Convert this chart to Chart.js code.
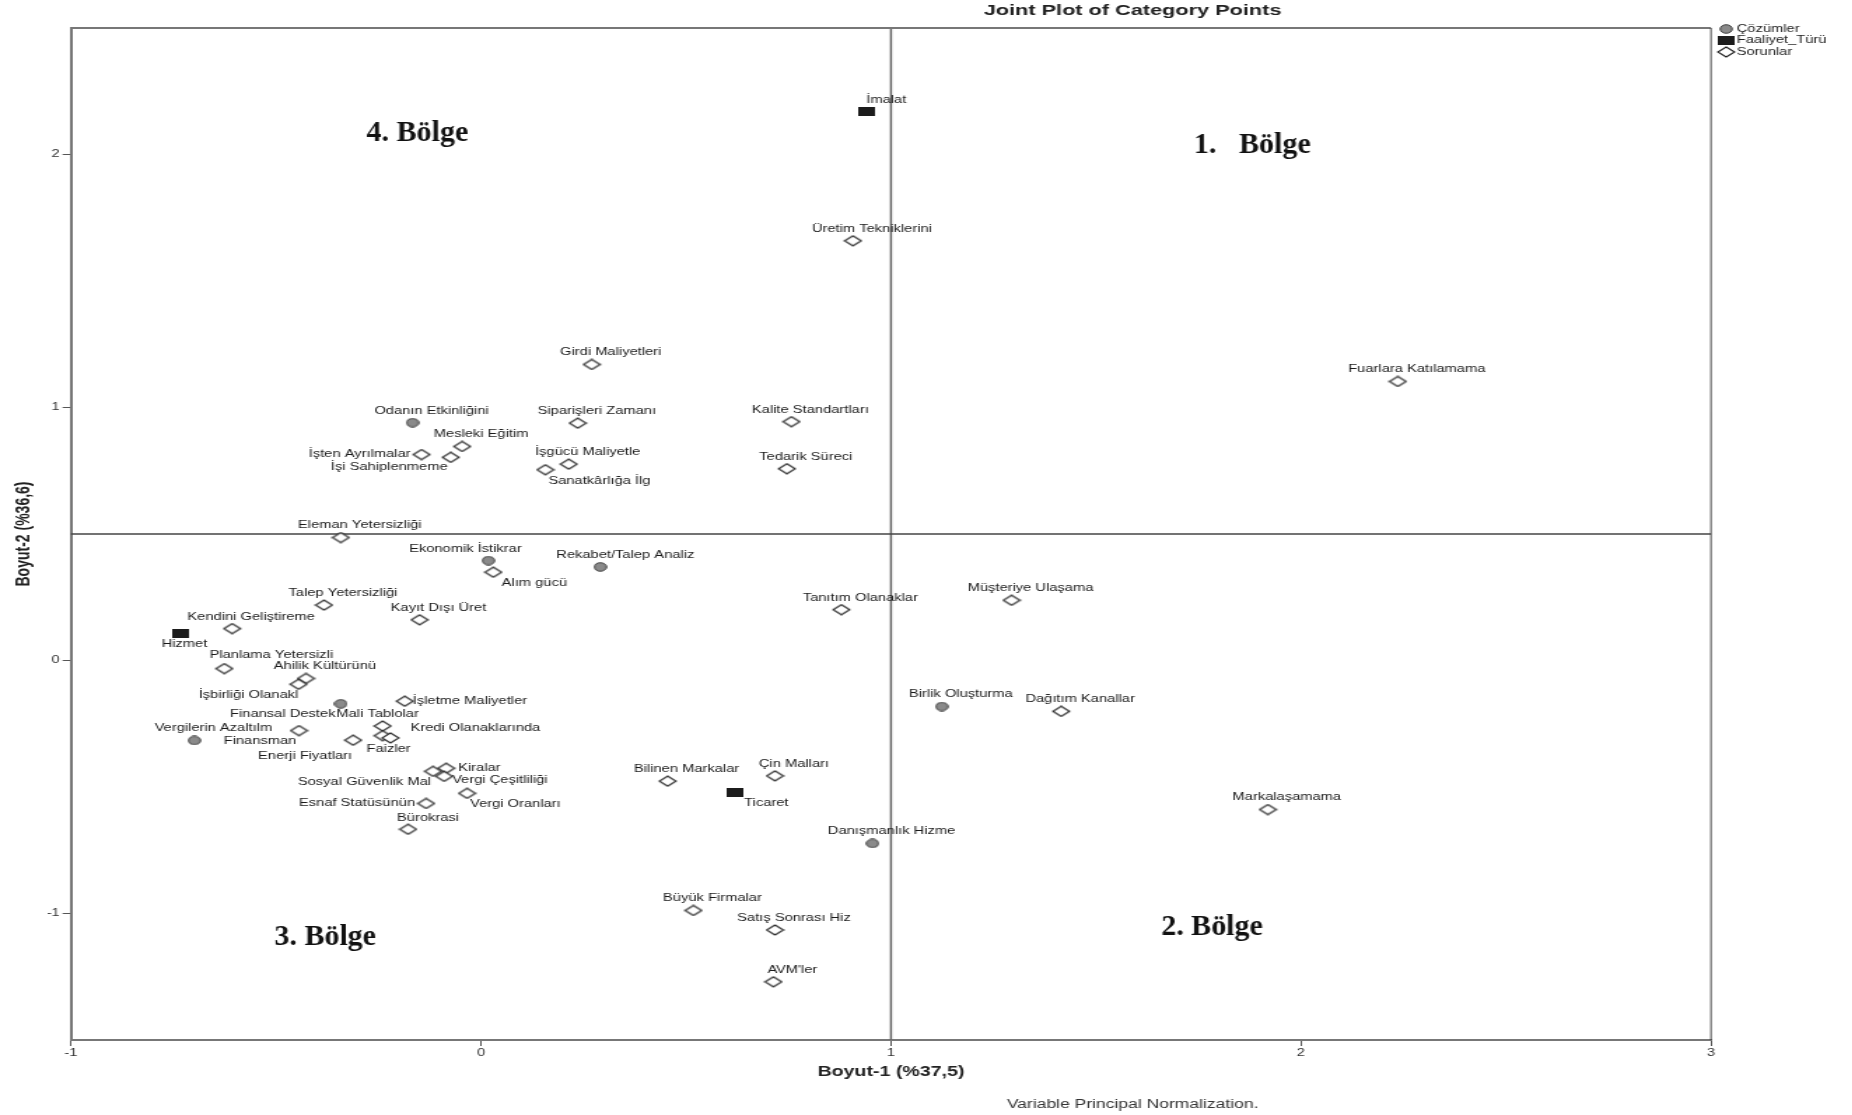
<!DOCTYPE html>
<html lang="tr">
<head>
  <meta charset="UTF-8" />
  <title>Joint Plot of Category Points</title>
  <script src="https://cdn.jsdelivr.net/npm/chart.js"></script>
  <style>
    html, body { margin: 0; padding: 0; background: #fff; overflow: hidden; }
    /* the original picture is stretched sideways, so the whole chart is too */
    #wrap { width: 1323px; height: 1115px; transform: scaleX(1.4); transform-origin: 0 0; }
  </style>
</head>
<body>
  <div id="wrap"><canvas id="plot" width="1323" height="1115"></canvas></div>

  <script>
    const STRETCH = 1.4;
    const FONT = '"Liberation Sans", Arial, sans-serif';

    const xTicks = [-1, 0, 1, 2, 3];
    const yTicks = [-1, 0, 1, 2];

    // Çözümler
    const cozumNames = ['Odanın Etkinliğini', 'Ekonomik İstikrar', 'Rekabet/Talep Analiz', 'Finansal Destek',
      'Vergilerin Azaltılm', 'Birlik Oluşturma', 'Danışmanlık Hizme'];
    const cozumX = [-0.167, 0.018, 0.291, -0.342, -0.699, 1.124, 0.955];
    const cozumY = [0.940, 0.395, 0.370, -0.171, -0.316, -0.182, -0.723];

    // Faaliyet_Türü
    const faaliyetNames = ['İmalat', 'Hizmet', 'Ticaret'];
    const faaliyetX = [0.942, -0.733, 0.618];
    const faaliyetY = [2.168, 0.107, -0.522];

    // Sorunlar
    const sorunNames = ['Üretim Tekniklerini', 'Girdi Maliyetleri', 'Fuarlara Katılamama', 'Siparişleri Zamanı',
      'Kalite Standartları', 'Mesleki Eğitim', 'İşten Ayrılmalar', 'İşi Sahiplenmeme', 'İşgücü Maliyetle',
      'Sanatkârlığa İlg', 'Tedarik Süreci', 'Eleman Yetersizliği', 'Alım gücü', 'Talep Yetersizliği',
      'Kayıt Dışı Üret', 'Kendini Geliştireme', 'Tanıtım Olanaklar', 'Müşteriye Ulaşama', 'Planlama Yetersizli',
      'Ahilik Kültürünü', 'İşbirliği Olanakl', 'İşletme Maliyetler', 'Dağıtım Kanallar', 'Finansman',
      'Mali Tablolar', 'Faizler', 'Kredi Olanaklarında', 'Enerji Fiyatları', 'Kiralar', 'Sosyal Güvenlik Mal',
      'Vergi Çeşitliliği', 'Vergi Oranları', 'Esnaf Statüsünün', 'Bürokrasi', 'Bilinen Markalar', 'Çin Malları',
      'Markalaşamama', 'Büyük Firmalar', 'Satış Sonrası Hiz', "AVM'ler"];
    const sorunX = [0.907, 0.270, 2.236, 0.236, 0.757, -0.046, -0.145, -0.074, 0.214, 0.157, 0.746, -0.342, 0.030,
      -0.383, -0.150, -0.607, 0.879, 1.294, -0.626, -0.427, -0.445, -0.186, 1.415, -0.444, -0.240, -0.240, -0.221,
      -0.312, -0.085, -0.117, -0.090, -0.034, -0.134, -0.178, 0.455, 0.717, 1.919, 0.518, 0.717, 0.713];
    const sorunY = [1.659, 1.170, 1.103, 0.938, 0.944, 0.846, 0.814, 0.803, 0.776, 0.754, 0.758, 0.486, 0.349,
      0.219, 0.161, 0.126, 0.201, 0.238, -0.032, -0.071, -0.094, -0.161, -0.201, -0.277, -0.259, -0.297, -0.306,
      -0.315, -0.426, -0.438, -0.458, -0.525, -0.565, -0.667, -0.477, -0.456, -0.589, -0.988, -1.065, -1.270];

    // region captions
    const bolgeText = ['4. Bölge', '1.   Bölge', '3. Bölge', '2. Bölge'];
    const bolgeX = [-0.279, 1.739, -0.504, 1.659];
    const bolgeY = [2.085, 2.038, -1.093, -1.056];

    // where each point label sits relative to its marker (screen px, before stretch)
    const defaultPlace = [19, -12, 'center'];
    const labelPlace = {
      'Hizmet': [4, 11, 'center'],
      'Ticaret': [32, 11, 'center'],
      'Ekonomik İstikrar': [-23, -11, 'center'],
      'Rekabet/Talep Analiz': [25, -12, 'center'],
      'Finansal Destek': [-58, 10, 'center'],
      'İşten Ayrılmalar': [-11, 0, 'right'],
      'İşi Sahiplenmeme': [-3, 10, 'right'],
      'Sanatkârlığa İlg': [54, 11, 'center'],
      'Alım gücü': [41, 11, 'center'],
      'Planlama Yetersizli': [47, -13, 'center'],
      'İşbirliği Olanakl': [-50, 11, 'center'],
      'İşletme Maliyetler': [8, 0, 'left'],
      'Finansman': [-39, 11, 'center'],
      'Mali Tablolar': [-5, -12, 'center'],
      'Faizler': [6, 13, 'center'],
      'Kredi Olanaklarında': [20, -10, 'left'],
      'Enerji Fiyatları': [-48, 16, 'center'],
      'Kiralar': [12, 0, 'left'],
      'Vergi Çeşitliliği': [8, 4, 'left'],
      'Sosyal Güvenlik Mal': [-2, 11, 'right'],
      'Vergi Oranları': [3, 11, 'left'],
      'Esnaf Statüsünün': [-11, 0, 'right'],
      'Bürokrasi': [20, -11, 'center']
    };

    function makeMarker(kind) {
      const c = document.createElement('canvas');
      const g = c.getContext('2d');
      if (kind === 'circle') {
        c.width = 10; c.height = 10;
        g.beginPath(); g.arc(5, 5, 4.3, 0, Math.PI * 2);
        g.fillStyle = '#8a8a8a'; g.fill();
        g.lineWidth = 0.9; g.strokeStyle = '#333'; g.stroke();
      } else if (kind === 'square') {
        c.width = 12; c.height = 9;
        g.fillStyle = '#1c1c1c'; g.fillRect(0, 0, 12, 9);
      } else {
        c.width = 14; c.height = 12;
        g.beginPath(); g.moveTo(7, 1); g.lineTo(13, 6); g.lineTo(7, 11); g.lineTo(1, 6); g.closePath();
        g.fillStyle = '#fff'; g.fill();
        g.lineWidth = 1.1; g.strokeStyle = '#222'; g.stroke();
      }
      return c;
    }
    const markers = { circle: makeMarker('circle'), square: makeMarker('square'), diamond: makeMarker('diamond') };

    function toPoints(xs, ys) {
      return xs.map((x, i) => ({ x: x, y: ys[i] }));
    }

    const quadrantLines = {
      id: 'quadrantLines',
      beforeDatasetsDraw(chart) {
        const { ctx, chartArea: a, scales: { x, y } } = chart;
        ctx.save();
        const px = x.getPixelForValue(1);
        ctx.strokeStyle = '#666'; ctx.lineWidth = 1.5;
        ctx.beginPath(); ctx.moveTo(px, a.top); ctx.lineTo(px, a.bottom); ctx.stroke();
        const py = y.getPixelForValue(0.5);
        ctx.strokeStyle = '#444'; ctx.lineWidth = 1.5;
        ctx.beginPath(); ctx.moveTo(a.left, py); ctx.lineTo(a.right, py); ctx.stroke();
        ctx.restore();
      }
    };

    const pointLabels = {
      id: 'pointLabels',
      afterDatasetsDraw(chart) {
        const ctx = chart.ctx;
        ctx.save();
        ctx.font = '10.5px ' + FONT;
        ctx.fillStyle = '#1a1a1a';
        ctx.textBaseline = 'middle';
        chart.data.datasets.forEach((ds, i) => {
          chart.getDatasetMeta(i).data.forEach((pt, j) => {
            const name = ds.names[j];
            const p = labelPlace[name] || defaultPlace;
            ctx.textAlign = p[2];
            ctx.fillText(name, pt.x + p[0] / STRETCH, pt.y + p[1]);
          });
        });
        ctx.restore();
      }
    };

    const decorations = {
      id: 'decorations',
      afterDraw(chart) {
        const { ctx, chartArea: a, scales: { x, y } } = chart;
        ctx.save();
        // top and right sides of the frame
        ctx.strokeStyle = '#777'; ctx.lineWidth = 2;
        ctx.beginPath(); ctx.moveTo(a.left, a.top); ctx.lineTo(a.right, a.top); ctx.stroke();
        ctx.strokeStyle = '#333'; ctx.lineWidth = 0.9;
        ctx.beginPath(); ctx.moveTo(a.right, a.top); ctx.lineTo(a.right, a.bottom); ctx.stroke();

        ctx.fillStyle = '#222';
        ctx.textAlign = 'center'; ctx.textBaseline = 'middle';
        ctx.font = 'bold 15.5px ' + FONT;
        ctx.fillText('Joint Plot of Category Points', 809, 11);
        ctx.font = '12.5px ' + FONT;
        ctx.fillStyle = '#333';
        ctx.fillText('Variable Principal Normalization.', 809, 1105);

        // legend
        const legendRows = [['Çözümler', markers.circle], ['Faaliyet_Türü', markers.square], ['Sorunlar', markers.diamond]];
        ctx.font = '10.5px ' + FONT;
        ctx.fillStyle = '#222';
        ctx.textAlign = 'left';
        legendRows.forEach((r, i) => {
          const ly = 29 + i * 11.5;
          ctx.drawImage(r[1], 1233 - r[1].width / 2, ly - r[1].height / 2);
          ctx.fillText(r[0], 1240.5, ly);
        });

        // region captions, drawn unstretched
        ctx.fillStyle = '#111';
        ctx.font = 'bold 30px "Liberation Serif", "Times New Roman", serif';
        bolgeText.forEach((t, i) => {
          ctx.save();
          ctx.translate(x.getPixelForValue(bolgeX[i]), y.getPixelForValue(bolgeY[i]));
          ctx.scale(1 / STRETCH, 1);
          ctx.fillText(t, 0, 0);
          ctx.restore();
        });
        ctx.restore();
      }
    };

    const axisCommon = {
      type: 'linear',
      grid: { drawOnChartArea: false, drawTicks: true, tickLength: 6, color: '#555', lineWidth: 1 },
      border: { display: true, color: '#777', width: 2 },
      ticks: { font: { size: 10.5, family: FONT }, color: '#333' }
    };

    new Chart(document.getElementById('plot'), {
      type: 'scatter',
      data: {
        datasets: [
          { label: 'Çözümler', names: cozumNames, data: toPoints(cozumX, cozumY), pointStyle: markers.circle, pointRadius: 5 },
          { label: 'Faaliyet_Türü', names: faaliyetNames, data: toPoints(faaliyetX, faaliyetY), pointStyle: markers.square, pointRadius: 5 },
          { label: 'Sorunlar', names: sorunNames, data: toPoints(sorunX, sorunY), pointStyle: markers.diamond, pointRadius: 5 }
        ]
      },
      options: {
        responsive: false,
        animation: false,
        layout: { padding: { left: 0, top: 28, right: 1323 - 1711 / STRETCH, bottom: 30 } },
        plugins: {
          legend: { display: false },
          tooltip: { enabled: false },
          title: { display: false }
        },
        scales: {
          x: {
            ...axisCommon,
            min: -1, max: 3,
            afterBuildTicks: s => { s.ticks = xTicks.map(v => ({ value: v })); },
            afterFit: s => { s.height = 45; },
            ticks: { ...axisCommon.ticks, padding: 1, maxRotation: 0 },
            title: { display: true, text: 'Boyut-1 (%37,5)', color: '#222', font: { size: 14, weight: 'bold', family: FONT }, padding: { top: 0, bottom: 4.6 } }
          },
          y: {
            ...axisCommon,
            min: -1.5, max: 2.5,
            afterBuildTicks: s => { s.ticks = yTicks.map(v => ({ value: v })); },
            afterFit: s => { s.width = 71 / STRETCH; },
            ticks: { ...axisCommon.ticks, padding: 2 },
            title: { display: true, text: 'Boyut-2 (%36,6)', color: '#222', font: { size: 14, weight: 'bold', family: FONT }, padding: { top: 8.5, bottom: 0 } }
          }
        }
      },
      plugins: [quadrantLines, pointLabels, decorations]
    });
  </script>
</body>
</html>
